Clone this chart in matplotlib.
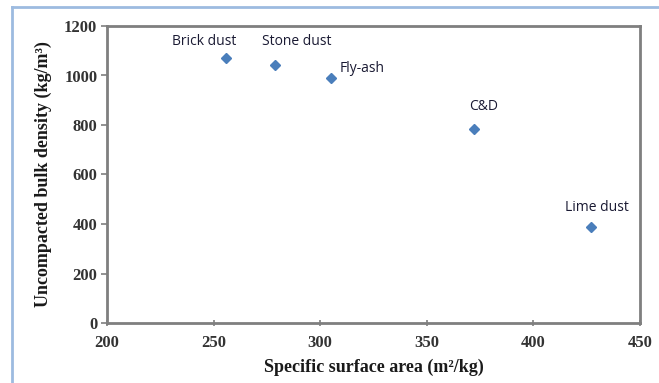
import matplotlib.pyplot as plt
from matplotlib.lines import Line2D

# data
materials = ["Brick dust", "Stone dust", "Fly-ash", "C&D", "Lime dust"]
surface_area = [256, 279, 305, 372, 427]
bulk_density = [1070, 1042, 990, 784, 388]

# label offsets (points) relative to each marker
offsets = [(-16, 12), (15, 17), (6, 7), (7, 16), (4, 14)]
aligns = ["center", "center", "left", "center", "center"]

fig = plt.figure(figsize=(6.59, 3.83), dpi=100)
ax = fig.add_axes([107 / 659, 1 - 323 / 383, (640 - 107) / 659, (323 - 26) / 383])

ax.plot(surface_area, bulk_density, linestyle="none", marker="D",
        markersize=5, color="#4a7ebb")

for name, x, y, off, ha in zip(materials, surface_area, bulk_density, offsets, aligns):
    ax.annotate(name, (x, y), xytext=off, textcoords="offset points",
                ha=ha, va="center", fontsize=10, color="#1a1a33",
                family="Open Sans")

ax.set_xlim(200, 450)
ax.set_ylim(0, 1200)
ax.set_xticks(range(200, 451, 50))
ax.set_yticks(range(0, 1201, 200))

serif = "Liberation Serif"
ax.set_xlabel("Specific surface area (m²/kg)", fontsize=13, fontweight="bold",
              family=serif, color="#1a1a1a", labelpad=6)
ax.set_ylabel("Uncompacted bulk density (kg/m³)", fontsize=13, fontweight="bold",
              family=serif, color="#1a1a1a", labelpad=9)

for lab in ax.get_xticklabels() + ax.get_yticklabels():
    lab.set_family(serif)
    lab.set_fontweight("bold")
    lab.set_fontsize(12)
    lab.set_color("#333333")

for sp in ax.spines.values():
    sp.set_color("#7f7f7f")
    sp.set_linewidth(2)

ax.tick_params(axis="x", direction="inout", length=5, width=1.2, color="#7f7f7f", pad=6)
ax.tick_params(axis="y", direction="out", length=4, width=1.2, color="#7f7f7f", pad=3)

# light blue frame around the chart (top and left only visible)
fig.add_artist(Line2D([12 / 659, 1], [1 - 7 / 383, 1 - 7 / 383], color="#9dbbe0", lw=2))
fig.add_artist(Line2D([12 / 659, 12 / 659], [0, 1 - 7 / 383], color="#9dbbe0", lw=2))

fig.savefig("out.png", dpi=100)
